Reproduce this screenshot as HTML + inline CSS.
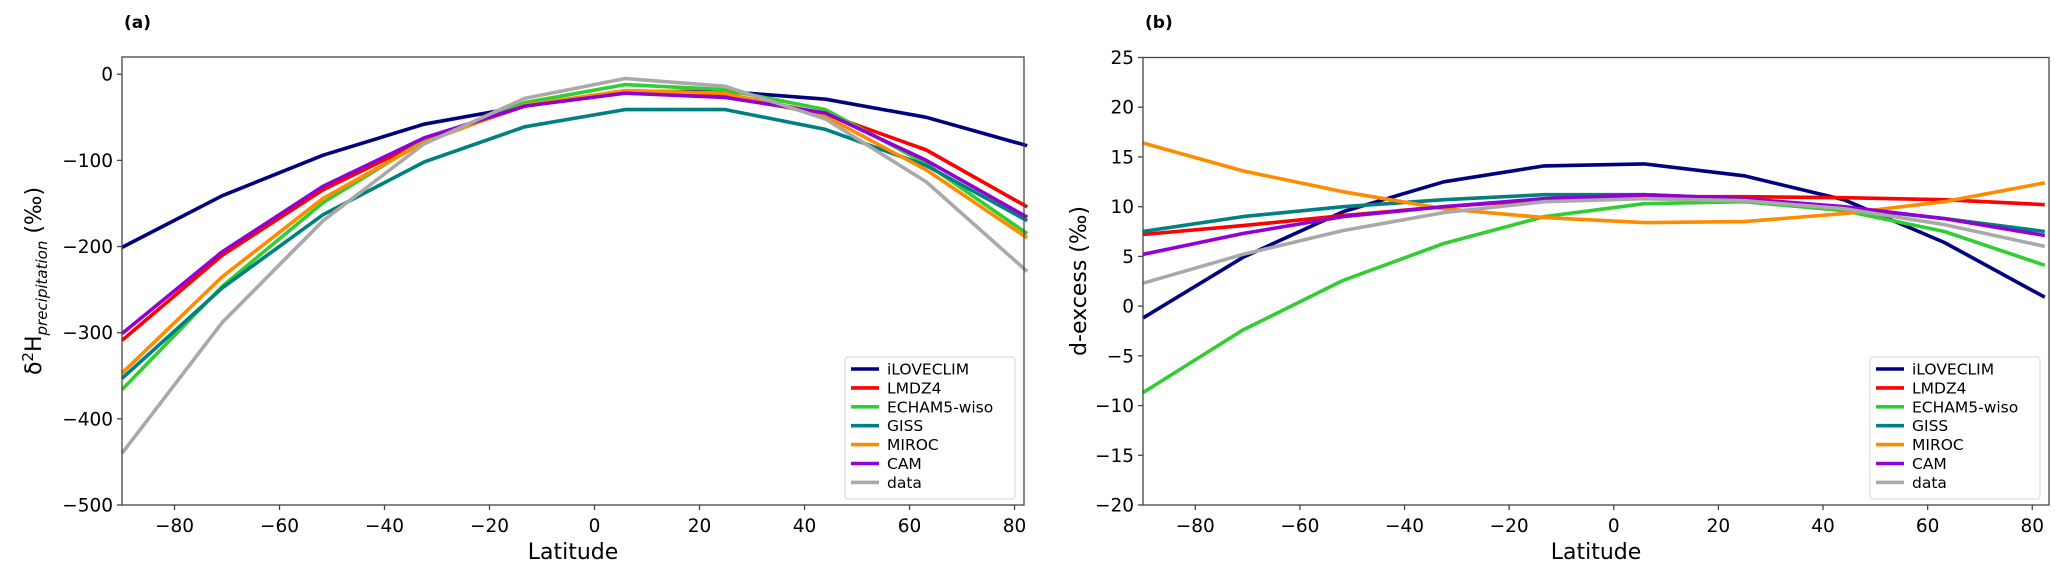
<!DOCTYPE html>
<html><head><meta charset="utf-8"><style>
html,body{margin:0;padding:0;background:#fff;}
svg{display:block;font-family:"DejaVu Sans","Liberation Sans",sans-serif;}
</style></head><body>
<svg id="chart" width="2067" height="571" viewBox="0 0 2067 571" xmlns="http://www.w3.org/2000/svg"></svg>
<script>
const lats = [-90, -70.9, -51.7, -32.5, -13.3, 5.8, 24.9, 44.0, 63.2, 82.4];
const seriesNames = ["iLOVECLIM","LMDZ4","ECHAM5-wiso","GISS","MIROC","CAM","data"];
const seriesKeys = ["iloveclim","lmdz4","echam5-wiso","giss","miroc","cam","data"];
const colors = ["#000080","#ff0000","#32cd32","#008080","#ff8c00","#9400d3","#a9a9a9"];
// Panel (a) delta 2H values
const aIloveclim = [-201,-141,-94,-58,-37,-20,-20,-29,-50,-83];
const aLmdz4 = [-309,-210,-134,-77,-37,-20,-23,-46,-88,-154];
const aEcham = [-366,-246,-149,-77,-33,-12,-18,-41,-104,-185];
const aGiss = [-353,-248,-163,-102,-61,-41,-41,-64,-106,-170];
const aMiroc = [-347,-235,-144,-79,-36,-19,-22,-49,-111,-190];
const aCam = [-301,-206,-130,-74,-37,-22,-27,-45,-100,-166];
const aData = [-440,-288,-170,-81,-28,-5,-14,-52,-125,-229];
// Panel (b) d-excess values
const bIloveclim = [-1.2,4.9,9.5,12.5,14.1,14.3,13.1,10.7,6.4,0.9];
const bLmdz4 = [7.2,8.1,9.1,10.0,10.7,11.0,11.0,10.9,10.7,10.2];
const bEcham = [-8.7,-2.4,2.6,6.3,9.0,10.3,10.5,9.6,7.5,4.1];
const bGiss = [7.5,9.0,10.0,10.7,11.2,11.2,10.8,9.9,8.8,7.5];
const bMiroc = [16.4,13.6,11.5,9.8,8.9,8.4,8.5,9.3,10.5,12.4];
const bCam = [5.2,7.3,9.0,10.0,10.8,11.2,10.8,10.0,8.8,7.1];
const bData = [2.3,5.2,7.6,9.4,10.5,10.8,10.6,9.8,8.2,6.0];
const aTicksY = [0,-100,-200,-300,-400,-500];
const bTicksY = [25,20,15,10,5,0,-5,-10,-15,-20];
const ticksX = [-80,-60,-40,-20,0,20,40,60,80];

const NS="http://www.w3.org/2000/svg";
const svg=document.getElementById('chart');
function el(tag,attrs,parent,text){const e=document.createElementNS(NS,tag);for(const k in attrs)e.setAttribute(k,attrs[k]);if(text!==undefined)e.textContent=text;(parent||svg).appendChild(e);return e;}

function panel(cfg){
  const g=el('g',{});
  
  
  const xs=v=>cfg.L+(v-cfg.xmin)/(cfg.xmax-cfg.xmin)*(cfg.R-cfg.L);
  const ys=v=>cfg.B-(v-cfg.ymin)/(cfg.ymax-cfg.ymin)*(cfg.B-cfg.T);
  // series
  cfg.series.forEach((vals,i)=>{
    const p=el('polyline',{points:vals.map((v,j)=>xs(lats[j]).toFixed(1)+','+ys(v).toFixed(1)).join(' '),fill:'none',stroke:colors[i],'stroke-width':3.6,'stroke-linejoin':'round'},g);
    
    
  });
  // frame
  const f=el('rect',{x:cfg.L,y:cfg.T,width:cfg.R-cfg.L,height:cfg.B-cfg.T,fill:'none',stroke:'#444','stroke-width':1.3},g);
  
  
  cfg.yticks.forEach(t=>{
    const y=ys(t);
    el('line',{x1:cfg.L-5,x2:cfg.L,y1:y,y2:y,stroke:'#444','stroke-width':1.3},g);
    const tx=el('text',{x:cfg.L-9,y:y+6.5,'text-anchor':'end','font-size':18.5,fill:'#000'},g,String(t).replace('-','\u2212'));
    
    
  });
  ticksX.forEach(t=>{
    const x=xs(t);
    el('line',{x1:x,x2:x,y1:cfg.B,y2:cfg.B+5,stroke:'#444','stroke-width':1.3},g);
    const tx=el('text',{x:x,y:cfg.B+27,'text-anchor':'middle','font-size':18.5,fill:'#000'},g,String(t).replace('-','\u2212'));
    
    
  });
  const xl=el('text',{x:(cfg.L+cfg.R)/2,y:559,'text-anchor':'middle','font-size':22,fill:'#000'},g,'Latitude');
  
  
  const pl=el('text',{x:cfg.L+2,y:28,'font-size':17,'font-weight':'bold',fill:'#000'},g,cfg.label);
  
  
  // legend
  const lg=el('g',{},g);
  
  
  const lx=cfg.R-179, ly=357;
  el('rect',{x:lx,y:ly,width:170,height:142,rx:3,fill:'#fff',stroke:'#ddd','stroke-width':1.2},lg);
  seriesNames.forEach((n,i)=>{
    const cy=ly+12+i*18.9;
    const h=el('line',{x1:lx+6,x2:lx+34,y1:cy,y2:cy,stroke:colors[i],'stroke-width':3.6},lg);
    
    
    const t=el('text',{x:lx+42,y:cy+5.5,'font-size':15.5,fill:'#000'},lg,n);
    
    
  });
  return g;
}

panel({id:'a',L:122,R:1024,T:57,B:505,xmin:-90,xmax:81.8,ymin:-500,ymax:20,yticks:aTicksY,label:'(a)',
  series:[aIloveclim,aLmdz4,aEcham,aGiss,aMiroc,aCam,aData]});
panel({id:'b',L:1143,R:2049,T:57.5,B:505,xmin:-90,xmax:83.2,ymin:-20,ymax:25,yticks:bTicksY,label:'(b)',
  series:[bIloveclim,bLmdz4,bEcham,bGiss,bMiroc,bCam,bData]});

// y axis titles
const ya=el('text',{transform:'translate(41,281) rotate(-90)','text-anchor':'middle','font-size':22,fill:'#000'});


el('tspan',{},ya,'\u03b4');
el('tspan',{dy:-8,'font-size':15},ya,'2');
el('tspan',{dy:8},ya,'H');
el('tspan',{dy:6,'font-size':15,'font-style':'italic'},ya,'precipitation');
el('tspan',{dy:-6},ya,' (\u2030)');
const yb=el('text',{transform:'translate(1086,281) rotate(-90)','text-anchor':'middle','font-size':22,fill:'#000'},svg,'d-excess (\u2030)');


</script>
</body></html>
